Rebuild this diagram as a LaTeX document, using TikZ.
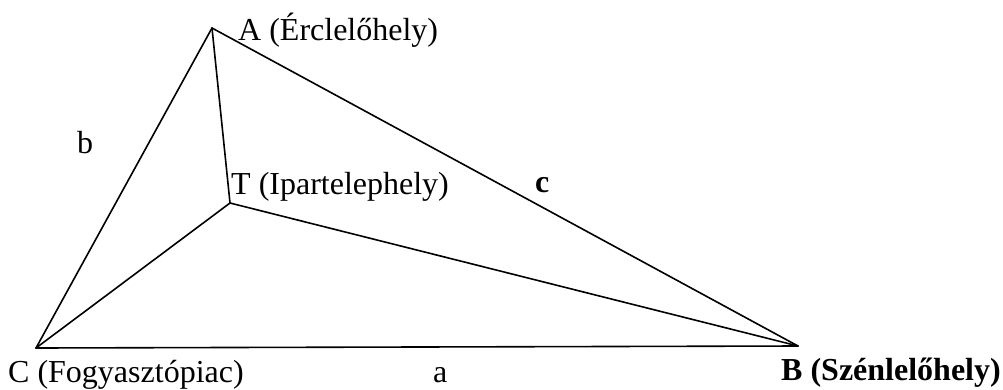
\documentclass[tikz,border=0pt]{standalone}
\usepackage{fontspec}
\setmainfont{Liberation Serif}
\begin{document}
\begin{tikzpicture}[x=1pt,y=-1pt,
  edge/.style={line width=1.6pt,line cap=round,line join=round},
  lbl/.style={anchor=base west,inner sep=0pt,font=\fontsize{32}{38}\selectfont},
  lblb/.style={anchor=base west,inner sep=0pt,font=\fontsize{32}{38}\selectfont\bfseries}]
\useasboundingbox (0,0) rectangle (1003,389);
\coordinate (A) at (212,28);
\coordinate (T) at (230,203);
\coordinate (C) at (36,348);
\coordinate (B) at (798,346);
\draw[edge] (A) -- (C);
\draw[edge] (A) -- (B);
\draw[edge] (C) -- (B);
\draw[edge] (A) -- (T);
\draw[edge] (T) -- (C);
\draw[edge] (T) -- (B);
\node[lbl] (lA) at (238,40) {A (Érclelőhely)};
\node[lbl] (lT) at (231,194) {T (Ipartelephely)};
\node[lblb] (lc) at (535,192) {c};
\node[lbl] (lb) at (77,153) {b};
\node[lbl] (lC) at (8,382) {C (Fogyasztópiac)};
\node[lbl] (la) at (433,382) {a};
\node[lblb] (lB) at (781,380) {B (Szénlelőhely)};
\end{tikzpicture}
\end{document}
